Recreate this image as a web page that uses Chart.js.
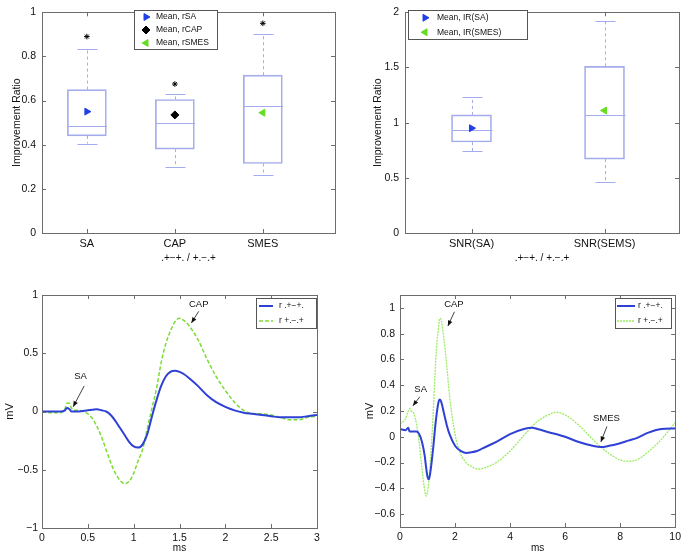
<!DOCTYPE html>
<html>
<head>
<meta charset="utf-8">
<script src="https://cdn.jsdelivr.net/npm/chart.js@4.4.1/dist/chart.umd.min.js"></script>
<style>
  body { margin: 0; background: #fff; }
  #wrap { position: relative; width: 685px; height: 555px; overflow: hidden; }
  .pane { position: absolute; }
</style>
</head>
<body>
<div id="wrap">
  <div class="pane" style="left:0;top:0;width:345px;height:270px"><canvas id="ratio"></canvas></div>
  <div class="pane" style="left:345px;top:0;width:340px;height:270px"><canvas id="snr"></canvas></div>
  <div class="pane" style="left:0;top:280px;width:345px;height:275px"><canvas id="short"></canvas></div>
  <div class="pane" style="left:345px;top:280px;width:340px;height:275px"><canvas id="long"></canvas></div>
</div>
<script>
// --- top left: improvement ratio boxplots ---
const ratioCats = ['SA', 'CAP', 'SMES'];
const ratioPos = [1, 2, 3];
const ratioLo = [0.405, 0.30, 0.265];
const ratioQ1 = [0.44, 0.38, 0.315];
const ratioMed = [0.485, 0.50, 0.575];
const ratioQ3 = [0.65, 0.605, 0.715];
const ratioHi = [0.835, 0.63, 0.90];
const ratioOut = [0.89, 0.675, 0.95];
const ratioMean = [0.55, 0.535, 0.545];
const ratioMeanLabels = ['Mean, rSA', 'Mean, rCAP', 'Mean, rSMES'];
const ratioTicks = [0, 0.2, 0.4, 0.6, 0.8, 1];

// --- top right: SNR boxplots ---
const snrCats = ['SNR(SA)', 'SNR(SEMS)'];
const snrPos = [1, 2];
const snrLo = [0.74, 0.465];
const snrQ1 = [0.825, 0.67];
const snrMed = [0.93, 1.065];
const snrQ3 = [1.07, 1.51];
const snrHi = [1.23, 1.92];
const snrMean = [0.95, 1.11];
const snrMeanLabels = ['Mean, IR(SA)', 'Mean, IR(SMES)'];
const snrTicks = [0, 0.5, 1, 1.5, 2];

// --- bottom left: 0-3 ms traces ---
const msA = [0, 0.1, 0.2, 0.25, 0.27, 0.3, 0.32, 0.35, 0.4, 0.5, 0.55, 0.6, 0.65, 0.7, 0.75, 0.8, 0.85, 0.9, 0.95,
  1.0, 1.05, 1.1, 1.15, 1.2, 1.25, 1.3, 1.35, 1.4, 1.45, 1.5, 1.55, 1.6, 1.7, 1.8, 1.9, 2.0, 2.1, 2.2, 2.3, 2.4,
  2.5, 2.6, 2.7, 2.8, 2.9, 3.0];
const blueA = [0, 0, 0, 0.01, 0.03, 0.02, 0, 0, 0, 0.01, 0.015, 0.02, 0.01, 0, -0.03, -0.08, -0.14, -0.2, -0.26,
  -0.30, -0.31, -0.28, -0.19, -0.04, 0.1, 0.22, 0.30, 0.34, 0.35, 0.34, 0.32, 0.29, 0.22, 0.14, 0.08, 0.04, 0.01,
  -0.01, -0.02, -0.03, -0.04, -0.05, -0.05, -0.05, -0.04, -0.03];
const greenA = [0, -0.01, -0.01, 0.02, 0.07, 0.07, 0.03, 0.01, 0.01, -0.02, -0.06, -0.13, -0.22, -0.33, -0.44, -0.53,
  -0.59, -0.62, -0.60, -0.53, -0.42, -0.32, -0.14, 0.03, 0.2, 0.42, 0.58, 0.69, 0.77, 0.80, 0.78, 0.74, 0.62, 0.45,
  0.30, 0.18, 0.08, 0.01, -0.02, -0.02, -0.03, -0.05, -0.07, -0.07, -0.05, -0.04];
const msATicks = [0, 0.5, 1, 1.5, 2, 2.5, 3];
const mvATicks = [-1, -0.5, 0, 0.5, 1];
const annoA = [
  { label: 'SA', text: [0.42, 0.3], from: [0.46, 0.22], to: [0.34, 0.04] },
  { label: 'CAP', text: [1.71, 0.92], from: [1.71, 0.86], to: [1.63, 0.76] }
];

// --- bottom right: 0-10 ms traces ---
const msB = [0, 0.2, 0.3, 0.35, 0.4, 0.5, 0.6, 0.7, 0.8, 0.9, 0.95, 1.0, 1.05, 1.1, 1.2, 1.3, 1.4, 1.45, 1.5, 1.6,
  1.7, 1.8, 2.0, 2.2, 2.4, 2.6, 2.8, 3.0, 3.5, 4.0, 4.5, 4.8, 5.0, 5.5, 5.7, 6.0, 6.5, 7.0, 7.3, 7.6, 8.0, 8.3,
  8.6, 9.0, 9.5, 10];
const blueB = [0.06, 0.05, 0.07, 0.04, 0.04, 0.04, 0.04, 0.02, -0.04, -0.15, -0.24, -0.31, -0.33, -0.28, -0.1,
  0.12, 0.27, 0.29, 0.27, 0.18, 0.09, 0.02, -0.07, -0.11, -0.125, -0.12, -0.11, -0.09, -0.04, 0.02, 0.06, 0.07,
  0.06, 0.03, 0.02, 0, -0.04, -0.07, -0.08, -0.07, -0.05, -0.03, -0.01, 0.03, 0.06, 0.065];
const greenB = [0.10, 0.14, 0.20, 0.22, 0.20, 0.18, 0.10, -0.05, -0.25, -0.42, -0.46, -0.43, -0.34, -0.2, 0.15,
  0.6, 0.85, 0.92, 0.90, 0.75, 0.55, 0.32, 0.02, -0.13, -0.2, -0.23, -0.25, -0.245, -0.2, -0.11, 0.01, 0.08, 0.12,
  0.18, 0.19, 0.17, 0.09, -0.02, -0.08, -0.13, -0.18, -0.19, -0.18, -0.12, -0.02, 0.11];
const msBTicks = [0, 2, 4, 6, 8, 10];
const mvBTicks = [-0.6, -0.4, -0.2, 0, 0.2, 0.4, 0.6, 0.8, 1];
const annoB = [
  { label: 'SA', text: [0.75, 0.37], from: [0.72, 0.31], to: [0.47, 0.24] },
  { label: 'CAP', text: [1.96, 1.03], from: [1.98, 0.97], to: [1.74, 0.86] },
  { label: 'SMES', text: [7.5, 0.14], from: [7.52, 0.08], to: [7.3, -0.04] }
];

const traceLabels = ['r .+\u2212+.', 'r +.\u2212.+'];
const xTitle = '.+\u2212+. / +.\u2212.+';

const FONT = '"Liberation Sans", Arial, sans-serif';
Chart.defaults.font.family = FONT;
Chart.defaults.color = '#111';
Chart.defaults.animation = false;

const BOX = '#a3acec';
const BLUE = '#2e40d6';
const GREEN = '#7cdc34';
const minus = v => String(+v.toFixed(2)).replace('-', '\u2212');

// MATLAB style frame with inward ticks on all four sides
const matFrame = {
  id: 'matFrame',
  afterDatasetsDraw(chart) {
    const { ctx, chartArea: a, scales } = chart;
    ctx.save();
    ctx.strokeStyle = '#6c6c6c';
    ctx.lineWidth = 1;
    ctx.strokeRect(Math.round(a.left) + 0.5, Math.round(a.top) + 0.5,
      Math.round(a.right - a.left), Math.round(a.bottom - a.top));
    ctx.beginPath();
    scales.x.ticks.forEach((t, i) => {
      const px = Math.round(scales.x.getPixelForTick(i)) + 0.5;
      ctx.moveTo(px, a.bottom); ctx.lineTo(px, a.bottom - 4);
      ctx.moveTo(px, a.top); ctx.lineTo(px, a.top + 4);
    });
    scales.y.ticks.forEach((t, i) => {
      const py = Math.round(scales.y.getPixelForTick(i)) + 0.5;
      ctx.moveTo(a.left, py); ctx.lineTo(a.left + 4, py);
      ctx.moveTo(a.right, py); ctx.lineTo(a.right - 4, py);
    });
    ctx.stroke();
    ctx.restore();
  }
};

// whiskers, caps and median for the boxes (the boxes themselves are floating bars)
const whiskers = {
  id: 'whiskers',
  beforeDatasetsDraw(chart, args, o) {
    const { ctx } = chart, x = chart.scales.x, y = chart.scales.y;
    const seg = (x0, y0, x1, y1) => { ctx.beginPath(); ctx.moveTo(x0, y0); ctx.lineTo(x1, y1); ctx.stroke(); };
    ctx.save();
    ctx.strokeStyle = BOX;
    ctx.lineWidth = 1;
    o.pos.forEach((p, i) => {
      const cx = Math.round(x.getPixelForValue(p)) + 0.5;
      const yLo = y.getPixelForValue(o.lo[i]), yHi = y.getPixelForValue(o.hi[i]);
      const yQ1 = y.getPixelForValue(o.q1[i]), yQ3 = y.getPixelForValue(o.q3[i]);
      const yMed = Math.round(y.getPixelForValue(o.med[i])) + 0.5;
      ctx.setLineDash([3, 3]);
      seg(cx, yQ3, cx, yHi);
      seg(cx, yQ1, cx, yLo);
      ctx.setLineDash([]);
      seg(cx - o.cap / 2, Math.round(yHi) + 0.5, cx + o.cap / 2, Math.round(yHi) + 0.5);
      seg(cx - o.cap / 2, Math.round(yLo) + 0.5, cx + o.cap / 2, Math.round(yLo) + 0.5);
      seg(cx - o.box / 2, yMed, cx + o.box / 2, yMed);
    });
    ctx.restore();
  }
};

// boxed legend in the axes
const boxLegend = {
  id: 'boxLegend',
  afterDraw(chart, args, o) {
    const { ctx } = chart;
    const items = chart.data.datasets.filter(d => d.inLegend);
    ctx.save();
    ctx.fillStyle = '#fff';
    ctx.fillRect(o.x, o.y, o.w, o.h);
    ctx.strokeStyle = '#555';
    ctx.lineWidth = 1;
    ctx.strokeRect(o.x + 0.5, o.y + 0.5, o.w, o.h);
    const rowH = o.h / items.length;
    items.forEach((d, i) => {
      const cy = o.y + rowH * (i + 0.5) + 0.5;
      if (o.lines) {
        ctx.strokeStyle = d.borderColor;
        ctx.lineWidth = d.borderWidth;
        ctx.setLineDash(d.borderDash || []);
        ctx.beginPath();
        ctx.moveTo(o.x + o.m0, cy); ctx.lineTo(o.x + o.m1, cy);
        ctx.stroke();
        ctx.setLineDash([]);
      } else {
        ctx.fillStyle = d.backgroundColor;
        ctx.strokeStyle = d.borderColor;
        Chart.helpers.drawPoint(ctx, {
          pointStyle: d.pointStyle, radius: d.pointRadius, rotation: d.pointRotation || 0, borderWidth: 1
        }, o.x + o.m0, cy);
      }
      ctx.fillStyle = '#111';
      ctx.font = o.font + 'px ' + FONT;
      ctx.textBaseline = 'middle';
      ctx.fillText(d.label, o.x + o.tx, cy);
    });
    ctx.restore();
  }
};

// text labels with arrows, placed in data units
const arrows = {
  id: 'arrows',
  afterDatasetsDraw(chart, args, o) {
    const { ctx } = chart, x = chart.scales.x, y = chart.scales.y;
    ctx.save();
    ctx.fillStyle = '#111';
    ctx.strokeStyle = '#111';
    ctx.lineWidth = 0.8;
    ctx.font = '9.5px ' + FONT;
    ctx.textAlign = 'center';
    ctx.textBaseline = 'middle';
    o.items.forEach(a => {
      ctx.fillText(a.label, x.getPixelForValue(a.text[0]), y.getPixelForValue(a.text[1]));
      const x0 = x.getPixelForValue(a.from[0]), y0 = y.getPixelForValue(a.from[1]);
      const x1 = x.getPixelForValue(a.to[0]), y1 = y.getPixelForValue(a.to[1]);
      const ang = Math.atan2(y1 - y0, x1 - x0);
      ctx.beginPath(); ctx.moveTo(x0, y0); ctx.lineTo(x1, y1); ctx.stroke();
      ctx.beginPath();
      ctx.moveTo(x1, y1);
      ctx.lineTo(x1 - 6 * Math.cos(ang - 0.4), y1 - 6 * Math.sin(ang - 0.4));
      ctx.lineTo(x1 - 6 * Math.cos(ang + 0.4), y1 - 6 * Math.sin(ang + 0.4));
      ctx.closePath();
      ctx.fill();
    });
    ctx.restore();
  }
};

function yScale(w, labelPad, title, titlePad, ticks, min, max, titleSize) {
  return {
    type: 'linear', min: min, max: max,
    grid: { display: false, drawTicks: false }, border: { display: false },
    afterBuildTicks: s => { s.ticks = ticks.map(v => ({ value: v })); },
    afterFit: s => { s.width = w; },
    ticks: { padding: labelPad, font: { size: 10.5 }, callback: v => minus(v) },
    title: { display: true, text: title, font: { size: titleSize }, padding: { top: titlePad, bottom: 0 } }
  };
}

function xScale(h, labelPad, title, titlePad, ticks, min, max, fmt, labelSize) {
  return {
    type: 'linear', min: min, max: max, offset: false,
    grid: { display: false, drawTicks: false }, border: { display: false },
    afterBuildTicks: s => { s.ticks = ticks.map(v => ({ value: v })); },
    afterFit: s => { s.height = h; },
    ticks: { padding: labelPad, maxRotation: 0, autoSkip: false, font: { size: labelSize }, callback: fmt },
    title: { display: true, text: title, font: { size: 10 }, padding: { top: 0, bottom: titlePad } }
  };
}

const pts = (pos, vals) => pos.map((p, i) => ({ x: p, y: vals[i] }));
const one = (pos, vals, i) => [{ x: pos[i], y: vals[i] }];
const quiet = { legend: { display: false }, tooltip: { enabled: false } };

// top left
new Chart(document.getElementById('ratio'), {
  type: 'bar',
  data: {
    datasets: [
      { type: 'line', label: ratioMeanLabels[0], inLegend: true, data: one(ratioPos, ratioMean, 0), showLine: false,
        pointStyle: 'triangle', pointRotation: 90, pointRadius: 4, backgroundColor: '#2140e8', borderColor: '#2140e8', order: 0 },
      { type: 'line', label: ratioMeanLabels[1], inLegend: true, data: one(ratioPos, ratioMean, 1), showLine: false,
        pointStyle: 'rectRot', pointRadius: 4, backgroundColor: '#000', borderColor: '#000', order: 0 },
      { type: 'line', label: ratioMeanLabels[2], inLegend: true, data: one(ratioPos, ratioMean, 2), showLine: false,
        pointStyle: 'triangle', pointRotation: -90, pointRadius: 4, backgroundColor: '#66dd22', borderColor: '#66dd22', order: 0 },
      { type: 'line', label: 'outliers', data: pts(ratioPos, ratioOut), showLine: false,
        pointStyle: 'star', pointRadius: 2.8, borderWidth: 1, borderColor: '#000', backgroundColor: '#000', order: 0 },
      { type: 'bar', label: 'box', data: ratioPos.map((p, i) => ({ x: p, y: [ratioQ1[i], ratioQ3[i]] })),
        barThickness: 39, backgroundColor: 'rgba(0,0,0,0)', borderColor: BOX, borderWidth: 1, borderSkipped: false, order: 5 }
    ]
  },
  options: {
    responsive: true, maintainAspectRatio: false,
    layout: { padding: { top: 5, right: 10, left: 0, bottom: 0 } },
    scales: {
      x: xScale(37, 4, xTitle, 6, ratioPos, 0.49, 3.82, (v, i) => ratioCats[i], 11),
      y: yScale(42, 6, 'Improvement Ratio', 11, ratioTicks, 0, 1, 10.5)
    },
    plugins: Object.assign({
      whiskers: { pos: ratioPos, lo: ratioLo, q1: ratioQ1, med: ratioMed, q3: ratioQ3, hi: ratioHi, cap: 20, box: 39 },
      boxLegend: { x: 134, y: 10, w: 83, h: 39, m0: 12, tx: 22, font: 8.5 }
    }, quiet)
  },
  plugins: [whiskers, matFrame, boxLegend]
});

// top right
new Chart(document.getElementById('snr'), {
  type: 'bar',
  data: {
    datasets: [
      { type: 'line', label: snrMeanLabels[0], inLegend: true, data: one(snrPos, snrMean, 0), showLine: false,
        pointStyle: 'triangle', pointRotation: 90, pointRadius: 4, backgroundColor: '#2140e8', borderColor: '#2140e8', order: 0 },
      { type: 'line', label: snrMeanLabels[1], inLegend: true, data: one(snrPos, snrMean, 1), showLine: false,
        pointStyle: 'triangle', pointRotation: -90, pointRadius: 4, backgroundColor: '#66dd22', borderColor: '#66dd22', order: 0 },
      { type: 'bar', label: 'box', data: snrPos.map((p, i) => ({ x: p, y: [snrQ1[i], snrQ3[i]] })),
        barThickness: 40, backgroundColor: 'rgba(0,0,0,0)', borderColor: BOX, borderWidth: 1, borderSkipped: false, order: 5 }
    ]
  },
  options: {
    responsive: true, maintainAspectRatio: false,
    layout: { padding: { top: 7, right: 6, left: 0, bottom: 0 } },
    scales: {
      x: xScale(37, 4, xTitle, 6, snrPos, 0.5, 2.56, (v, i) => snrCats[i], 11),
      y: yScale(60, 6, 'Improvement Ratio', 27, snrTicks, 0, 2, 10.5)
    },
    plugins: Object.assign({
      whiskers: { pos: snrPos, lo: snrLo, q1: snrQ1, med: snrMed, q3: snrQ3, hi: snrHi, cap: 20, box: 40 },
      boxLegend: { x: 63, y: 10, w: 119, h: 29, m0: 17, tx: 29, font: 8.5 }
    }, quiet)
  },
  plugins: [whiskers, matFrame, boxLegend]
});

// bottom left
new Chart(document.getElementById('short'), {
  type: 'line',
  data: {
    datasets: [
      { label: traceLabels[0], inLegend: true, data: pts(msA, blueA), borderColor: BLUE, borderWidth: 2,
        pointRadius: 0, cubicInterpolationMode: 'monotone' },
      { label: traceLabels[1], inLegend: true, data: pts(msA, greenA), borderColor: GREEN, borderWidth: 1.5,
        borderDash: [4, 2], pointRadius: 0, cubicInterpolationMode: 'monotone' }
    ]
  },
  options: {
    responsive: true, maintainAspectRatio: false,
    layout: { padding: { top: 15, right: 28, left: 0, bottom: 0 } },
    scales: {
      x: xScale(27, 4, 'ms', 1, msATicks, 0, 3, v => minus(v), 10.5),
      y: yScale(42, 4, 'mV', 3, mvATicks, -1, 1, 11)
    },
    plugins: Object.assign({
      arrows: { items: annoA },
      boxLegend: { x: 256, y: 18, w: 60, h: 30, lines: true, m0: 3, m1: 17, tx: 23, font: 8.5 }
    }, quiet)
  },
  plugins: [matFrame, arrows, boxLegend]
});

// bottom right
new Chart(document.getElementById('long'), {
  type: 'line',
  data: {
    datasets: [
      { label: traceLabels[0], inLegend: true, data: pts(msB, blueB), borderColor: BLUE, borderWidth: 2,
        pointRadius: 0, cubicInterpolationMode: 'monotone' },
      { label: traceLabels[1], inLegend: true, data: pts(msB, greenB), borderColor: '#9bec62', borderWidth: 1.3,
        borderDash: [2, 1], pointRadius: 0, cubicInterpolationMode: 'monotone' }
    ]
  },
  options: {
    responsive: true, maintainAspectRatio: false,
    layout: { padding: { top: 15, right: 9, left: 0, bottom: 0 } },
    scales: {
      x: xScale(28, 4, 'ms', 1, msBTicks, 0, 10, v => minus(v), 10.5),
      y: yScale(55, 5, 'mV', 18, mvBTicks, -0.7, 1.1, 11)
    },
    plugins: Object.assign({
      arrows: { items: annoB },
      boxLegend: { x: 270, y: 18, w: 56, h: 30, lines: true, m0: 2, m1: 20, tx: 23, font: 8.5 }
    }, quiet)
  },
  plugins: [matFrame, arrows, boxLegend]
});
</script>
</body>
</html>
